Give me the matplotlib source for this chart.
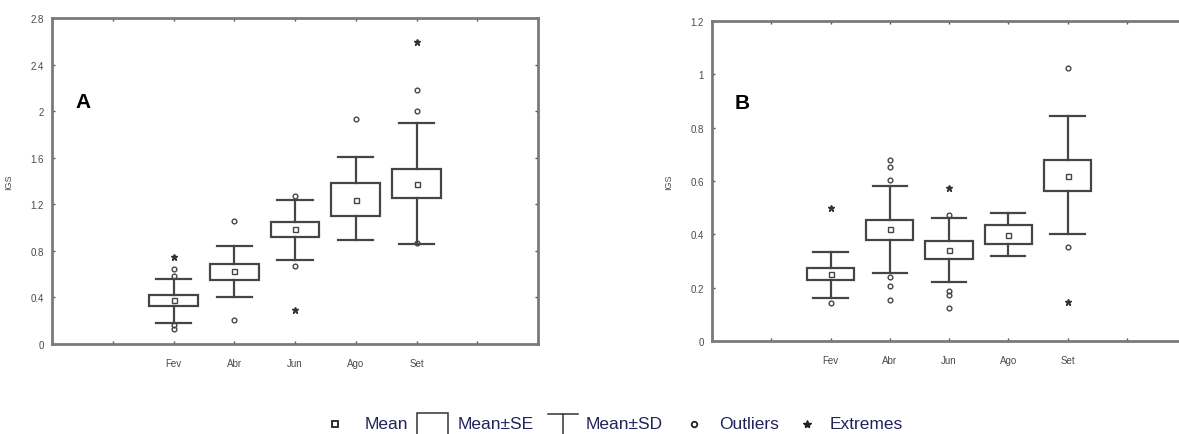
import matplotlib
matplotlib.use("Agg")
import matplotlib.pyplot as plt
from matplotlib.patches import Rectangle
from matplotlib.lines import Line2D

plt.rcParams['font.family'] = ['Liberation Sans', 'DejaVu Sans']

# Data
months = ["Fev", "Abr", "Jun", "Ago", "Set"]

# Panel A
a_mean = [0.38, 0.63, 0.99, 1.24, 1.375]
a_se_lo = [0.33, 0.55, 0.92, 1.10, 1.25]
a_se_hi = [0.42, 0.69, 1.05, 1.38, 1.50]
a_sd_lo = [0.18, 0.40, 0.72, 0.89, 0.86]
a_sd_hi = [0.56, 0.84, 1.24, 1.61, 1.90]
a_outliers = [[0.64, 0.58, 0.16, 0.13], [1.06, 0.21], [1.27, 0.67], [1.93], [2.18, 2.00, 0.87]]
a_extremes = [[0.75], [], [0.29], [], [2.59]]

# Panel B
b_mean = [0.253, 0.42, 0.343, 0.398, 0.617]
b_se_lo = [0.228, 0.378, 0.309, 0.365, 0.561]
b_se_hi = [0.274, 0.454, 0.374, 0.434, 0.679]
b_sd_lo = [0.163, 0.254, 0.22, 0.318, 0.40]
b_sd_hi = [0.335, 0.583, 0.462, 0.481, 0.842]
b_outliers = [[0.141], [0.68, 0.654, 0.605, 0.24, 0.208, 0.153], [0.472, 0.186, 0.174, 0.122], [], [1.023, 0.354]]
b_extremes = [[0.498], [], [0.573], [], [0.148]]

positions = [2, 3, 4, 5, 6]
LINE = "#454545"
SPINE = "#7a7a7a"
TXT = "#4a4a4a"


def draw_panel(ax, mean, se_lo, se_hi, sd_lo, sd_hi, outliers, extremes, ymax, letter, letter_font):
    stats = []
    for i in range(len(months)):
        stats.append(dict(med=mean[i], mean=mean[i], q1=se_lo[i], q3=se_hi[i],
                          whislo=sd_lo[i], whishi=sd_hi[i], fliers=outliers[i]))
    ax.bxp(stats, positions=positions, widths=0.8, capwidths=0.58,
           showmeans=True, patch_artist=True,
           boxprops=dict(facecolor="white", edgecolor=LINE, linewidth=1.6),
           whiskerprops=dict(color=LINE, linewidth=1.6),
           capprops=dict(color=LINE, linewidth=1.6),
           medianprops=dict(linewidth=0),
           meanprops=dict(marker="s", markerfacecolor="none", markeredgecolor=LINE,
                          markersize=3.6, markeredgewidth=1.0),
           flierprops=dict(marker="o", markerfacecolor="none", markeredgecolor=LINE,
                           markersize=3.4, markeredgewidth=1.0))
    for p, ext in zip(positions, extremes):
        if ext:
            ax.plot([p] * len(ext), ext, ls="none", marker="*", color="#333333",
                    markersize=5, zorder=5)

    ax.set_xlim(0, 8)
    ax.set_ylim(0, ymax)
    ax.set_xticks(range(1, 8))
    ax.set_xticklabels(["", *months, ""])
    ax.tick_params(axis="both", direction="in", length=2, width=1, color="#555555",
                   top=True, right=True, labelsize=7, labelcolor=TXT, pad=6)
    ax.tick_params(axis="x", pad=10)
    for s in ax.spines.values():
        s.set_color(SPINE)
        s.set_linewidth(2)
    ax.set_ylabel("IGS", fontsize=6.5, color=TXT, labelpad=12)
    ax.text(0.064, 0.745, letter, transform=ax.transAxes, fontsize=15,
            fontweight="bold", va="center", ha="center", family=letter_font)


fig = plt.figure(figsize=(11.79, 4.35), dpi=100)

ax_a = fig.add_axes([52 / 1179, 90 / 435, 486 / 1179, 326 / 435])
draw_panel(ax_a, a_mean, a_se_lo, a_se_hi, a_sd_lo, a_sd_hi, a_outliers, a_extremes,
           2.8, "A", ["Liberation Sans", "DejaVu Sans"])
ax_a.set_yticks([0, 0.4, 0.8, 1.2, 1.6, 2.0, 2.4, 2.8])
ax_a.set_yticklabels(["0", "0.4", "0.8", "1.2", "1.6", "2", "2.4", "2.8"])

ax_b = fig.add_axes([712 / 1179, 93 / 435, 474 / 1179, 320 / 435])
draw_panel(ax_b, b_mean, b_se_lo, b_se_hi, b_sd_lo, b_sd_hi, b_outliers, b_extremes,
           1.2, "B", ["Liberation Sans Narrow", "Liberation Sans", "DejaVu Sans"])
ax_b.set_yticks([0, 0.2, 0.4, 0.6, 0.8, 1.0, 1.2])
ax_b.set_yticklabels(["0", "0.2", "0.4", "0.6", "0.8", "1", "1.2"])

# Legend row (pixel coordinates)
leg = fig.add_axes([0, 0, 1, 1], facecolor="none")
leg.set_xlim(0, 1179)
leg.set_ylim(435, 0)
leg.axis("off")
LC = "#23235a"
FS = 12.5
ly = 425
leg.plot([335], [ly], marker="s", mfc="none", mec="#222222", ms=4.5, mew=1.3, ls="none")
leg.text(365, ly, "Mean", fontsize=FS, color=LC, va="center")
leg.add_patch(Rectangle((417, ly - 11), 31, 22, fill=False, ec="#333333", lw=1.1))
leg.text(458, ly, "Mean±SE", fontsize=FS, color=LC, va="center")
leg.add_line(Line2D([548, 578], [ly - 10, ly - 10], color="#333333", lw=1.1))
leg.add_line(Line2D([563, 563], [ly - 10, ly + 11], color="#333333", lw=1.1))
leg.text(586, ly, "Mean±SD", fontsize=FS, color=LC, va="center")
leg.plot([694], [ly], marker="o", mfc="none", mec="#222222", ms=4, mew=1.3, ls="none")
leg.text(719, ly, "Outliers", fontsize=FS, color=LC, va="center")
leg.plot([807], [ly], marker="*", color="#222222", ms=6, ls="none")
leg.text(830, ly, "Extremes", fontsize=FS, color=LC, va="center")

fig.savefig("out.png", dpi=100)
